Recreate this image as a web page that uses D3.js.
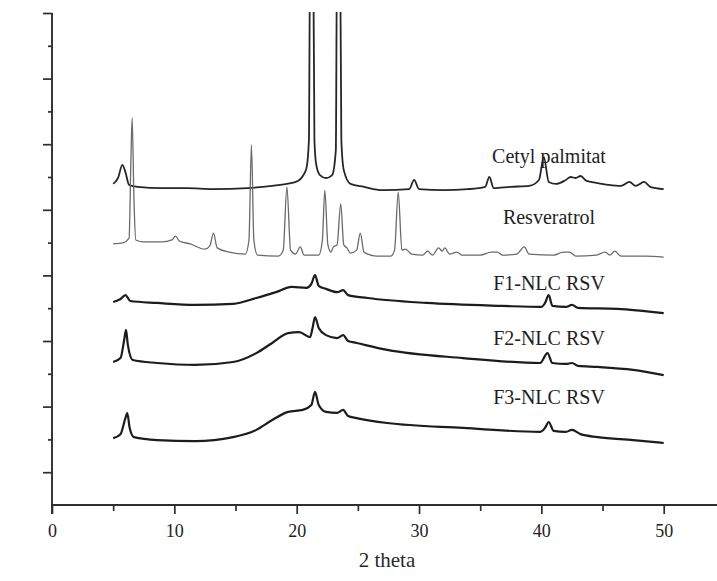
<!DOCTYPE html>
<html>
<head>
<meta charset="utf-8">
<script src="https://cdn.jsdelivr.net/npm/d3@7"></script>
<style>
  body { margin: 0; background: #fff; }
  text { font-family: "Liberation Serif", "Times New Roman", serif; fill: #222; }
  .trace { fill: none; stroke-linejoin: round; }
</style>
</head>
<body>
<div id="chart"></div>
<script>
// 2 theta values and intensities (a.u., offset stacked)
var cetylX = [5.0, 5.4, 5.75, 6.0, 6.3, 7.0, 9.0, 11.0, 13.2, 16.0, 18.0, 19.2, 20.1, 20.5, 20.8, 21.0, 21.1, 21.35, 21.45, 21.6, 21.9, 22.4, 22.9, 23.2, 23.3, 23.55, 23.65, 23.85, 24.4, 25.5, 27.0, 29.2, 29.6, 30.0, 32.0, 34.0, 35.4, 35.75, 36.1, 37.5, 39.0, 39.8, 40.2, 40.6, 41.2, 42.0, 42.4, 42.8, 43.2, 43.7, 44.5, 45.5, 46.5, 47.2, 47.7, 48.4, 48.9, 50.0];
var cetylY = [9.79, 9.97, 10.37, 10.15, 9.76, 9.70, 9.66, 9.66, 9.63, 9.66, 9.73, 9.79, 9.88, 10.03, 10.27, 11.13, 17, 17, 11.13, 10.37, 10.06, 9.97, 10.06, 10.82, 17, 17, 11.13, 10.21, 9.79, 9.70, 9.60, 9.63, 9.91, 9.63, 9.60, 9.63, 9.70, 10.0, 9.66, 9.70, 9.73, 9.91, 10.61, 9.85, 9.79, 9.91, 10.0, 9.97, 10.03, 9.88, 9.82, 9.76, 9.73, 9.85, 9.73, 9.85, 9.70, 9.63];

var resvX = [5.0, 5.8, 6.3, 6.45, 6.55, 6.7, 6.85, 7.5, 9.0, 9.8, 10.1, 10.4, 11.3, 12.5, 12.9, 13.2, 13.5, 14.5, 15.8, 16.1, 16.3, 16.5, 16.8, 18.5, 18.9, 19.2, 19.5, 19.9, 20.3, 20.6, 21.8, 22.1, 22.3, 22.55, 22.8, 23.0, 23.3, 23.6, 23.85, 24.1, 24.4, 24.9, 25.2, 25.5, 26.5, 27.7, 28.0, 28.3, 28.6, 28.9, 29.4, 30.3, 30.7, 31.1, 31.6, 31.9, 32.1, 32.5, 33.1, 33.5, 35.0, 35.9, 36.4, 36.8, 38.0, 38.6, 39.0, 41.0, 41.8, 42.3, 42.8, 44.5, 45.2, 45.6, 46.0, 46.5, 48.5, 50.0];
var resvY = [7.96, 7.99, 8.14, 10.52, 11.80, 9.30, 8.08, 8.02, 8.02, 8.08, 8.20, 8.05, 7.96, 7.80, 7.90, 8.29, 7.84, 7.71, 7.65, 8.08, 10.98, 8.08, 7.62, 7.59, 7.77, 9.70, 7.77, 7.65, 7.87, 7.62, 7.62, 8.08, 9.60, 7.93, 7.71, 7.87, 7.93, 9.18, 7.93, 7.84, 7.68, 7.77, 8.29, 7.71, 7.59, 7.59, 7.77, 9.54, 7.77, 7.80, 7.65, 7.62, 7.74, 7.62, 7.84, 7.74, 7.84, 7.65, 7.71, 7.62, 7.62, 7.71, 7.71, 7.62, 7.65, 7.87, 7.65, 7.62, 7.71, 7.71, 7.59, 7.62, 7.71, 7.62, 7.74, 7.59, 7.59, 7.56];

var f1X = [5.0, 5.6, 6.0, 6.4, 8.6, 11.7, 14.8, 16.7, 18.3, 19.6, 20.8, 21.2, 21.5, 21.8, 22.4, 23.3, 23.8, 24.2, 25.8, 30.6, 36.8, 40.0, 40.3, 40.6, 40.9, 42.0, 42.5, 43.0, 46.2, 50.0];
var f1Y = [6.19, 6.28, 6.40, 6.22, 6.16, 6.10, 6.13, 6.31, 6.49, 6.65, 6.62, 6.74, 7.01, 6.68, 6.59, 6.49, 6.55, 6.40, 6.31, 6.16, 6.07, 6.04, 6.16, 6.40, 6.07, 6.04, 6.10, 6.01, 5.98, 5.85];

var f2X = [5.0, 5.6, 5.9, 6.05, 6.2, 6.6, 8.6, 11.7, 14.8, 16.7, 18.0, 19.3, 20.2, 21.1, 21.3, 21.5, 21.8, 22.4, 23.3, 23.8, 24.2, 24.9, 27.4, 33.6, 39.9, 40.5, 40.9, 42.0, 42.5, 43.0, 44.6, 47.5, 50.0];
var f2Y = [4.36, 4.48, 5.03, 5.34, 4.88, 4.42, 4.33, 4.27, 4.36, 4.63, 4.94, 5.24, 5.27, 5.12, 5.40, 5.73, 5.40, 5.18, 5.09, 5.18, 5.00, 4.94, 4.73, 4.48, 4.33, 4.63, 4.33, 4.30, 4.33, 4.24, 4.21, 4.12, 3.96];

var f3X = [5.0, 5.6, 6.0, 6.15, 6.35, 6.7, 8.6, 11.7, 14.8, 16.7, 18.0, 19.3, 20.5, 21.2, 21.5, 21.8, 22.4, 23.3, 23.8, 24.2, 24.9, 27.4, 33.6, 39.9, 40.3, 40.6, 41.0, 42.0, 42.5, 43.2, 44.6, 47.5, 50.0];
var f3Y = [2.04, 2.16, 2.65, 2.80, 2.35, 2.07, 1.98, 1.95, 2.07, 2.29, 2.59, 2.84, 2.90, 3.05, 3.45, 3.05, 2.84, 2.81, 2.90, 2.71, 2.65, 2.50, 2.35, 2.23, 2.35, 2.53, 2.26, 2.23, 2.29, 2.16, 2.07, 1.98, 1.89];

var seriesNames = ["Cetyl palmitat", "Resveratrol", "F1-NLC RSV", "F2-NLC RSV", "F3-NLC RSV"];
var labelY = [10.43, 8.56, 6.55, 4.88, 3.08];
var xTicks = [0, 10, 20, 30, 40, 50];

var w = 717;
var h = 581;

var svg = d3.select("#chart").append("svg").attr("width", w).attr("height", h);

var x = d3.scaleLinear().domain([0, 55.5]).range([52, 731]);
var y = d3.scaleLinear().domain([0, 15]).range([505, 13]);

svg.append("defs").append("clipPath").attr("id", "plotclip")
  .append("rect").attr("x", 52).attr("y", 12).attr("width", w - 52).attr("height", 493);

var series = [
  { xs: cetylX, ys: cetylY, color: "#262626", width: 1.8 },
  { xs: resvX, ys: resvY, color: "#6a6a6a", width: 1.3 },
  { xs: f1X, ys: f1Y, color: "#1c1c1c", width: 2.2 },
  { xs: f2X, ys: f2Y, color: "#1c1c1c", width: 2.2 },
  { xs: f3X, ys: f3Y, color: "#1c1c1c", width: 2.2 },
];

var line = d3.line()
  .x((d) => x(d[0]))
  .y((d) => y(d[1]))
  .curve(d3.curveMonotoneX);

svg.append("g").attr("clip-path", "url(#plotclip)")
  .selectAll("path")
  .data(series)
  .enter()
  .append("path")
  .attr("class", "trace")
  .attr("stroke", (d) => d.color)
  .attr("stroke-width", (d) => d.width)
  .attr("d", (d) => line(d.xs.map((v, i) => [v, d.ys[i]])));

// series labels
svg.append("g")
  .selectAll("text")
  .data(seriesNames)
  .enter()
  .append("text")
  .attr("x", 549)
  .attr("y", (d, i) => y(labelY[i]))
  .attr("text-anchor", "middle")
  .style("font-size", "20px")
  .style("fill", "#1e1e1e")
  .text((d) => d);

// x axis
var xAxis = d3.axisBottom(x)
  .tickValues(d3.range(0, 55, 5))
  .tickSize(7)
  .tickFormat((d) => (xTicks.indexOf(d) >= 0 ? d : ""));
var gx = svg.append("g").attr("transform", "translate(0,505)").call(xAxis);
gx.select(".domain").attr("d", "M52,0H717").attr("stroke", "#2e2e2e").attr("stroke-width", 1.9);
gx.selectAll(".tick line").attr("stroke", "#2e2e2e").attr("stroke-width", 1.7)
  .attr("y2", (d) => (d % 10 === 0 ? 9 : 6));
gx.selectAll(".tick text").attr("dy", 0).attr("y", 32)
  .style("font-size", "18px").style("font-family", "Liberation Serif, serif").attr("fill", "#2a2a2a");

// y axis, no labels
var yAxis = d3.axisLeft(y)
  .tickValues(d3.range(0, 16, 1))
  .tickSize(8)
  .tickFormat("");
var gy = svg.append("g").attr("transform", "translate(52,0)").call(yAxis);
gy.select(".domain").attr("d", "M0,13V514").attr("stroke", "#2e2e2e").attr("stroke-width", 1.9);
gy.selectAll(".tick line").attr("stroke", "#2e2e2e").attr("stroke-width", 1.7)
  .attr("x2", (d) => (d % 2 === 1 ? -9 : -4))
  .style("display", (d) => (d === 0 ? "none" : null));

svg.append("text")
  .attr("x", 387)
  .attr("y", 567)
  .attr("text-anchor", "middle")
  .style("font-size", "21px")
  .style("fill", "#2a2a2a")
  .text("2 theta");
</script>
</body>
</html>
